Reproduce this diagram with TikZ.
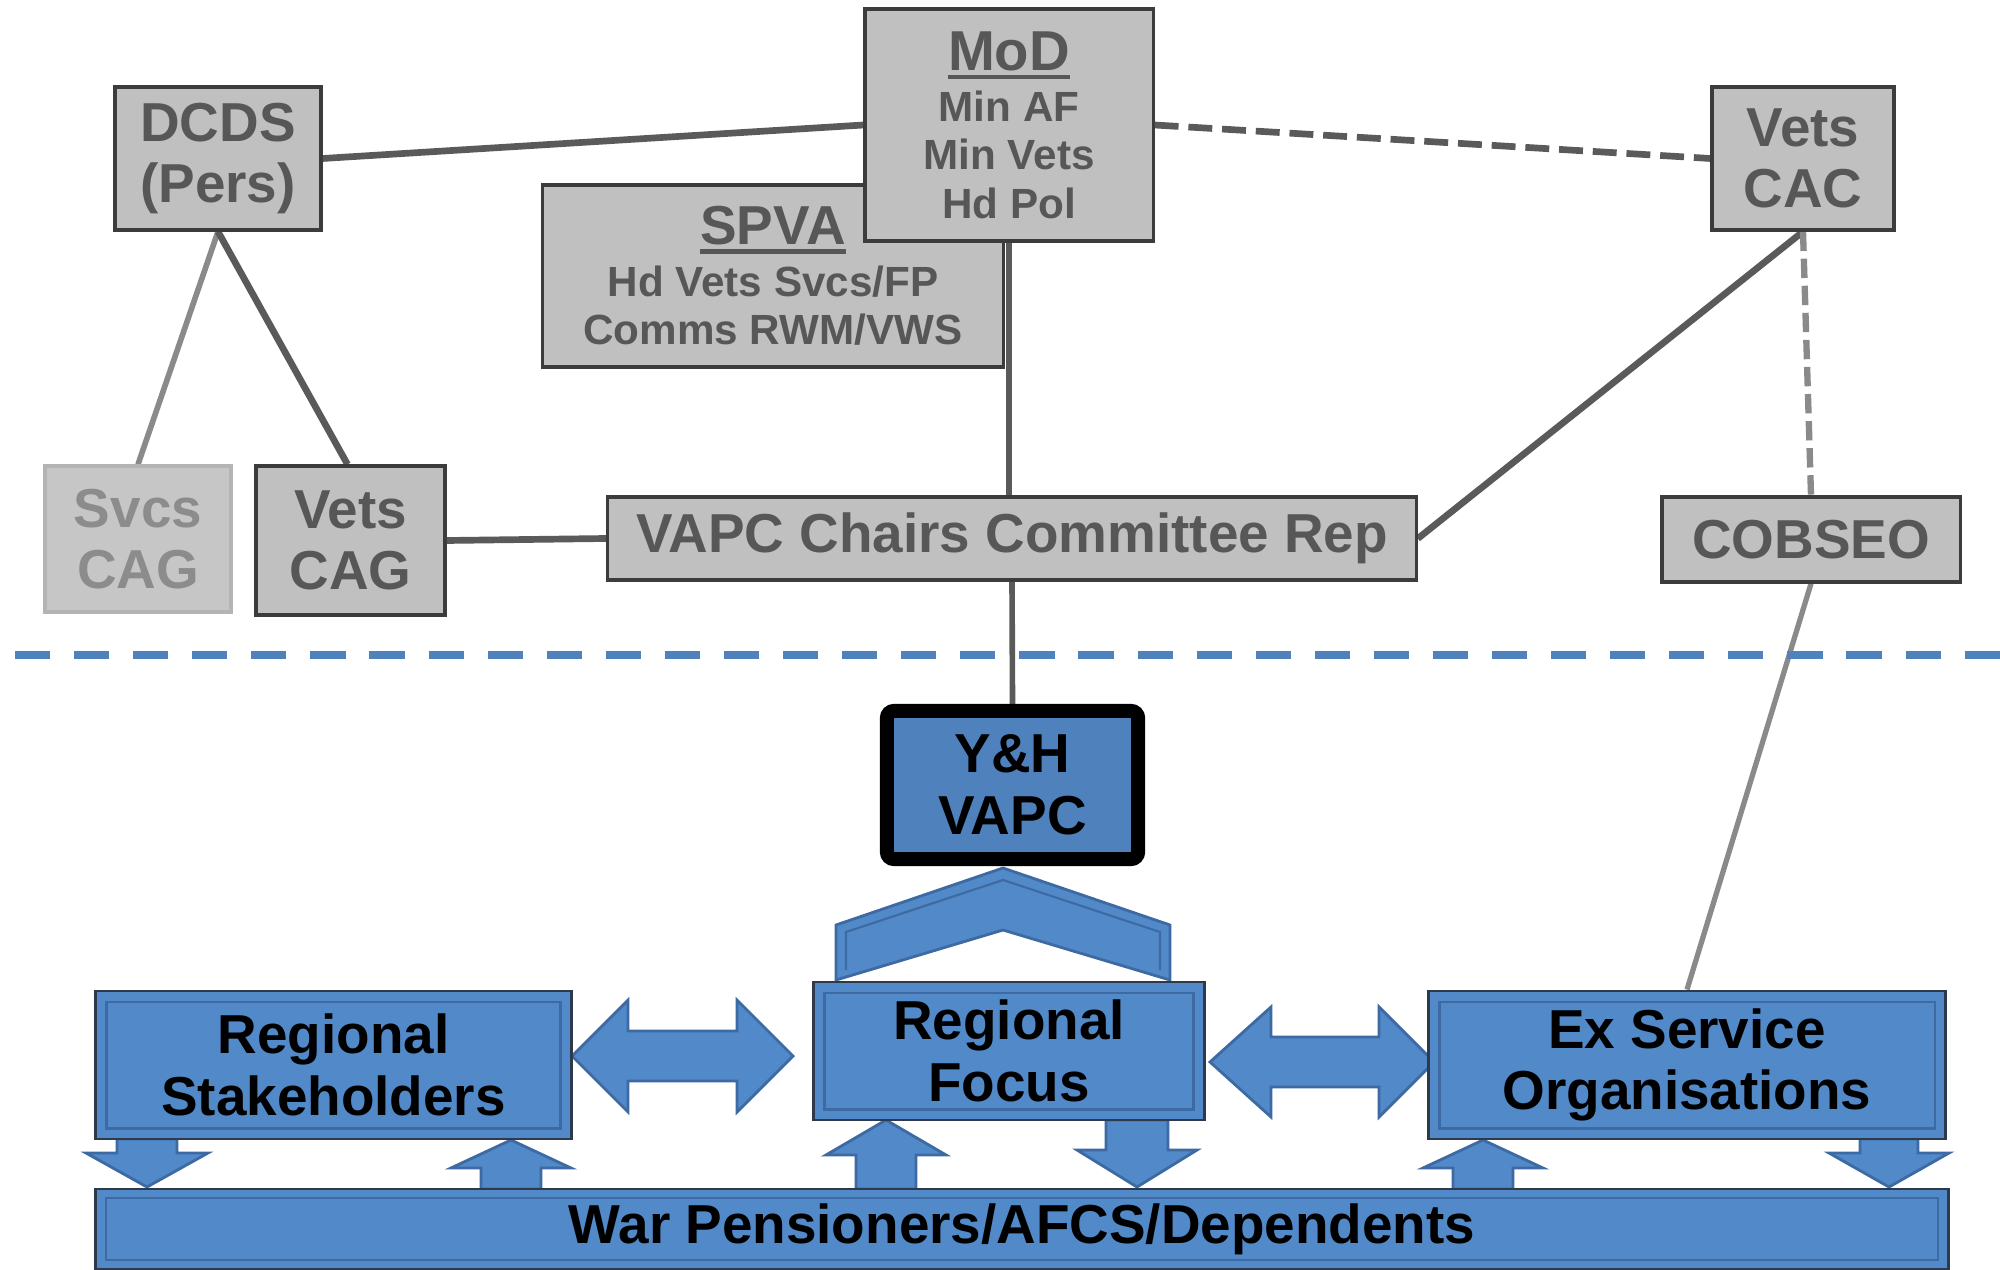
\documentclass[tikz,border=0pt]{standalone}
\usepackage{fontspec}
\setmainfont{Liberation Sans}
\usetikzlibrary{calc}
\pgfdeclarelayer{bg}
\pgfdeclarelayer{links}
\pgfsetlayers{bg,links,main}
\definecolor{gfill}{HTML}{C0C0C0}
\definecolor{gedge}{HTML}{3C3C3C}
\definecolor{gtext}{HTML}{575757}
\definecolor{ltext}{HTML}{8C8C8C}
\definecolor{lfill}{HTML}{C6C6C6}
\definecolor{ledge}{HTML}{B4B4B4}
\definecolor{dline}{HTML}{5A5A5A}
\definecolor{lline}{HTML}{8A8A8A}
\definecolor{bfill}{HTML}{5289C8}
\definecolor{yfill}{HTML}{4F81BD}
\definecolor{bdark}{HTML}{3D6AA3}
\definecolor{bedge}{HTML}{2E3A4A}
\definecolor{ydash}{HTML}{4F81BD}
\newcommand\bigtxt{\fontsize{15.6}{17.5}\selectfont\bfseries}
\newcommand\smalltxt{\fontsize{12}{13.7}\selectfont\bfseries}
\newcommand\ulthick[1]{\setbox0=\hbox{#1}\rlap{\smash{\raisebox{-2.6pt}{\rule{\wd0}{1.3pt}}}}\box0}
\newcommand\blockarrow[6]{% cx, y start, y head base, y tip, shaft half, head half
  \filldraw[blk] ({#1-#5},#2) -- ({#1+#5},#2) -- ({#1+#5},#3) -- ({#1+#6},#3) -- (#1,#4) -- ({#1-#6},#3) -- ({#1-#5},#3) -- cycle;}
\newcommand\dblarrow[7]{% x1, xb1, xb2, x2, cy, shaft half, head half
  \filldraw[blk] (#1,#5) -- (#2,{#5-#7}) -- (#2,{#5-#6}) -- (#3,{#5-#6}) -- (#3,{#5-#7}) -- (#4,#5)
    -- (#3,{#5+#7}) -- (#3,{#5+#6}) -- (#2,{#5+#6}) -- (#2,{#5+#7}) -- cycle;}
\tikzset{
  gbox/.style={draw=gedge, line width=0.9pt, fill=gfill, text=gtext, font=\bigtxt, align=center, inner sep=0pt},
  lbox/.style={gbox, draw=ledge, fill=lfill, text=ltext},
  bbox/.style={draw=bedge, line width=0.8pt, fill=bfill, text=black, font=\bigtxt, align=center, inner sep=0pt},
  bevel/.style={draw=bdark, line width=0.6pt},
  conn/.style={draw=dline, line width=1.9pt},
  lconn/.style={draw=lline, line width=1.6pt},
  blk/.style={fill=bfill, draw=bdark, line width=0.8pt, line join=miter},
}
\begin{document}
\begin{tikzpicture}[x=0.01cm, y=-0.01cm]
\useasboundingbox (0,0) rectangle (2000,1270);
\begin{pgfonlayer}{bg}
\fill[white] (0,0) rectangle (2000,1270);
\end{pgfonlayer}

% ---- grey boxes ----
\node[gbox, minimum width=2.06cm, minimum height=1.43cm] (dcds) at (218,158.5) {DCDS\\(Pers)};
\node[gbox, minimum width=4.60cm, minimum height=1.82cm, font=\smalltxt] (spva) at (773,276)
  {{\fontsize{15.6}{13.7}\selectfont\ulthick{SPVA}}\\[1pt]Hd Vets Svcs/FP\\Comms RWM/VWS};
\node[gbox, minimum width=2.88cm, minimum height=2.32cm, font=\smalltxt] (mod) at (1009,125)
  {{\fontsize{16}{13.7}\selectfont\ulthick{MoD}}\\[1pt]Min AF\\Min Vets\\Hd Pol};
\node[gbox, minimum width=1.82cm, minimum height=1.43cm] (cac) at (1803,158.5) {Vets\\CAC};
\node[lbox, minimum width=1.86cm, minimum height=1.46cm] (svcs) at (138,539) {Svcs\\CAG};
\node[gbox, minimum width=1.89cm, minimum height=1.49cm] (vcag) at (350.5,540.5) {Vets\\CAG};
\node[gbox, minimum width=8.08cm, minimum height=0.83cm] (vapc) at (1012,538.5) {VAPC Chairs Committee Rep};
\node[gbox, minimum width=2.98cm, minimum height=0.85cm] (cob) at (1811,539.5) {COBSEO};

% ---- blue boxes ----
\node[bbox, fill=yfill, draw=black, line width=4pt, rounded corners=2pt,
      minimum width=2.51cm, minimum height=1.48cm] (yh) at (1012.5,785) {Y\&H\\VAPC};
\node[bbox, minimum width=4.75cm, minimum height=1.48cm] (rs) at (333.5,1065) {Regional\\Stakeholders};
\node[bbox, minimum width=3.90cm, minimum height=1.38cm] (rf) at (1009,1051) {Regional\\Focus};
\node[bbox, minimum width=5.16cm, minimum height=1.48cm] (eso) at (1687,1065) {Ex Service\\Organisations};
\node[bbox, minimum width=18.52cm, minimum height=0.80cm] (war) at (1022,1229) {War Pensioners/AFCS/Dependents};

% bevels on blue boxes
\foreach \b in {rs,rf,eso}{
  \draw[bevel] ($(\b.north west)+(12,12)$) rectangle ($(\b.south east)+(-12,-12)$);
}
\draw[bevel] ($(war.north west)+(12,10)$) rectangle ($(war.south east)+(-12,-10)$);

% ---- divider ----
\coordinate (divL) at (15,655);
\coordinate (divR) at (2000,655);
\draw[ydash, line width=2.3pt, dash pattern=on 10pt off 6.8pt] (divL) -- (divR);

% ---- connectors ----
\begin{pgfonlayer}{links}
\draw[conn] (dcds.east) -- (mod.west);
\draw[conn, dash pattern=on 6.8pt off 2.8pt] (mod.east) -- (cac.west);
\draw[lconn] (dcds.south) -- (svcs.north);
\draw[conn] (dcds.south) -- ($(vcag.north)+(-3,0)$);
\draw[conn] (vcag.east) -- (vapc.west);
\draw[conn, line width=1.6pt] (mod.south) -- (mod.south |- vapc.north);
\draw[conn, line width=1.6pt] (vapc.south) -- (yh.north);
\draw[conn] (vapc.east) -- (cac.south);
\draw[lconn, line width=1.8pt, dash pattern=on 5.5pt off 2.2pt] (cac.south) -- (cob.north);
\draw[lconn, line width=1.5pt] (cob.south) -- (eso.north);

% ---- block arrows ----
\blockarrow{147}{1139}{1153}{1187}{30}{61}
\blockarrow{511}{1189}{1168}{1140}{30}{60}
\blockarrow{886}{1189}{1155}{1120}{30}{60}
\blockarrow{1137}{1120}{1150}{1187}{31}{60}
\blockarrow{1483}{1189}{1168}{1140}{30}{60}
\blockarrow{1889}{1139}{1153}{1187}{29}{60}
\dblarrow{572}{628}{737}{793}{1056}{25}{56}
\dblarrow{1210}{1271}{1379}{1434}{1062}{25}{55}
% chevron
\filldraw[blk] (836,980) -- (836,925) -- (1003,868) -- (1170,925) -- (1170,980) -- (1003,930) -- cycle;
\draw[bevel] (846,970) -- (846,932) -- (1003,880) -- (1160,932) -- (1160,970);
\end{pgfonlayer}
\end{tikzpicture}
\end{document}
